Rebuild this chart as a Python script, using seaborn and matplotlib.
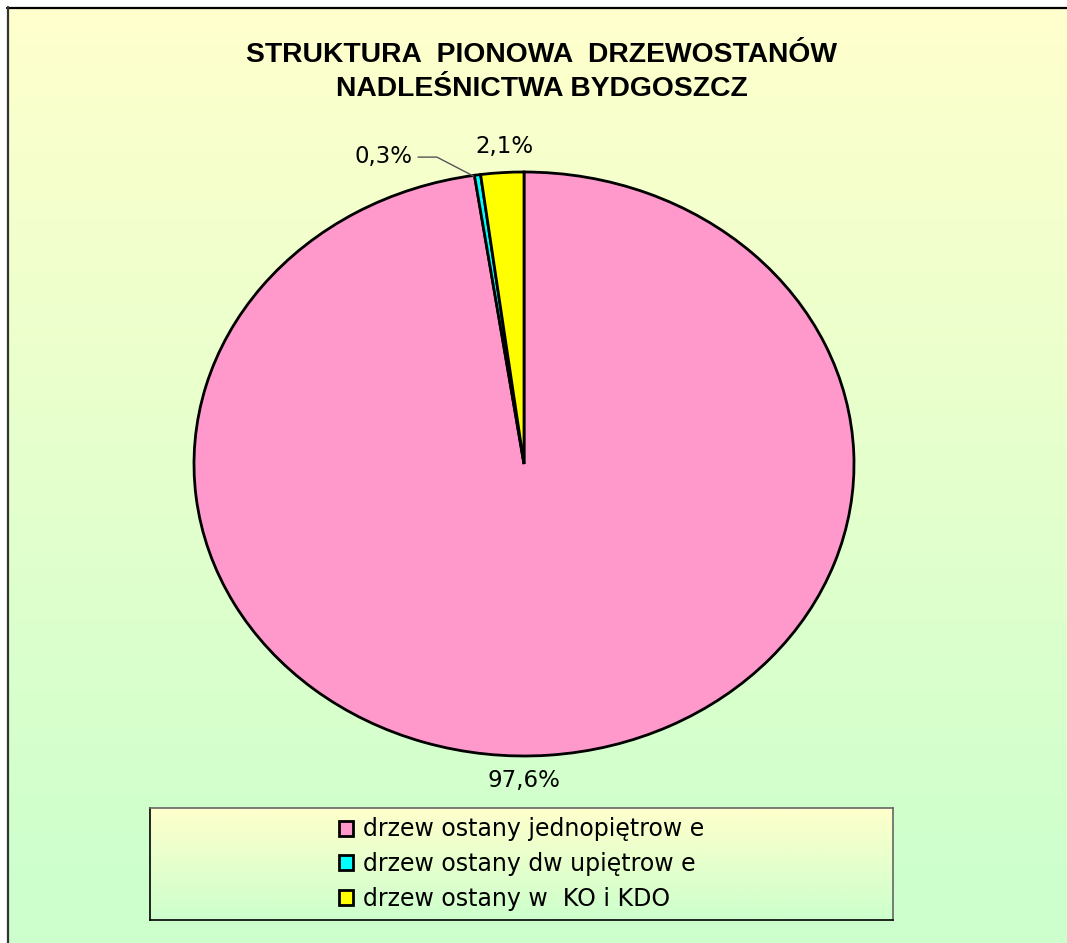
import numpy as np
import matplotlib
matplotlib.use("Agg")
import matplotlib.pyplot as plt
import seaborn as sns

# data
labels = ["drzew ostany jednopiętrow e", "drzew ostany dw upiętrow e", "drzew ostany w  KO i KDO"]
shares = [97.6, 0.3, 2.1]
colors = ["#FF99CC", "#00FFFF", "#FFFF00"]
title = "STRUKTURA  PIONOWA  DRZEWOSTANÓW\nNADLEŚNICTWA BYDGOSZCZ"

sns.set_style("white")
plt.rcParams['font.family'] = ['Liberation Sans', 'DejaVu Sans']
plt.rcParams['text.color'] = 'black'

W, H = 1067, 943
fig = plt.figure(figsize=(W / 100, H / 100), dpi=100, facecolor="white")


def vgrad(top, bottom, n=256):
    top = np.array(matplotlib.colors.to_rgb(top))
    bottom = np.array(matplotlib.colors.to_rgb(bottom))
    t = np.linspace(0, 1, n)[:, None]
    return (top * (1 - t) + bottom * t)[:, None, :]


# background: gradient chart area with frame on top/left
bg = fig.add_axes([0, 0, 1, 1], zorder=0)
bg.set_xlim(0, W)
bg.set_ylim(H, 0)
bg.axis("off")
bg.imshow(vgrad("#FFFFCC", "#CCFFCC"), extent=[7, W, 900, 7], aspect="auto")
bg.fill_between([7, W], 900, H, color="#CCFFCC", lw=0)
bg.plot([7, W], [7.5, 7.5], color="black", lw=1.6)
bg.plot([7.5, 7.5], [7, H], color="#333333", lw=1.6)

# pie axes: pie spans x 194..854, y 172..756 px
cx, cy, rx, ry = 524, 464, 330, 292
k = 1.3
ax = fig.add_axes([(cx - rx * k) / W, (H - cy - ry * k) / H, 2 * rx * k / W, 2 * ry * k / H], zorder=1)
wedges, _ = ax.pie(shares, colors=colors, startangle=90, counterclock=False,
                   wedgeprops=dict(edgecolor="black", linewidth=2.0))
ax.set_aspect("auto")
ax.set_xlim(-k, k)
ax.set_ylim(-k, k)
ax.axis("off")


def fmt(v):
    return f"{v:.1f}".replace(".", ",") + "%"


lab_kw = dict(fontsize=16.5, color="black", family="DejaVu Sans")
ax.text(0.0, -1.085, fmt(shares[0]), ha="center", va="center", **lab_kw)
ax.text(-0.338, 1.052, fmt(shares[1]), ha="right", va="center", **lab_kw)
ax.text(-0.058, 1.087, fmt(shares[2]), ha="center", va="center", **lab_kw)
ax.plot([-0.321, -0.264, -0.153], [1.051, 1.051, 0.986], color="#555555", lw=1)

fig.text(542 / W, 1 - 72 / H, title, ha="center", va="center", fontsize=20.3,
         fontweight="bold", linespacing=1.4, zorder=3)

# legend box with its own gradient
lg = fig.add_axes([150 / W, (H - 920) / H, 743 / W, 112 / H], zorder=2)
lg.imshow(vgrad("#FFFFCC", "#CCFFCC"), extent=[0, 1, 0, 1], aspect="auto")
lg.set_xticks([])
lg.set_yticks([])
for s in lg.spines.values():
    s.set_color("black")
    s.set_linewidth(1.2)
lg.spines["top"].set_color("#666666")
lg.spines["right"].set_color("#666666")
lg.legend(wedges, labels, loc="center", frameon=False,
          prop=dict(family="DejaVu Sans", size=17),
          handlelength=0.6, handleheight=0.6, handletextpad=0.42,
          labelspacing=0.45, borderpad=0)

fig.savefig("out.png", dpi=100, facecolor="white")
